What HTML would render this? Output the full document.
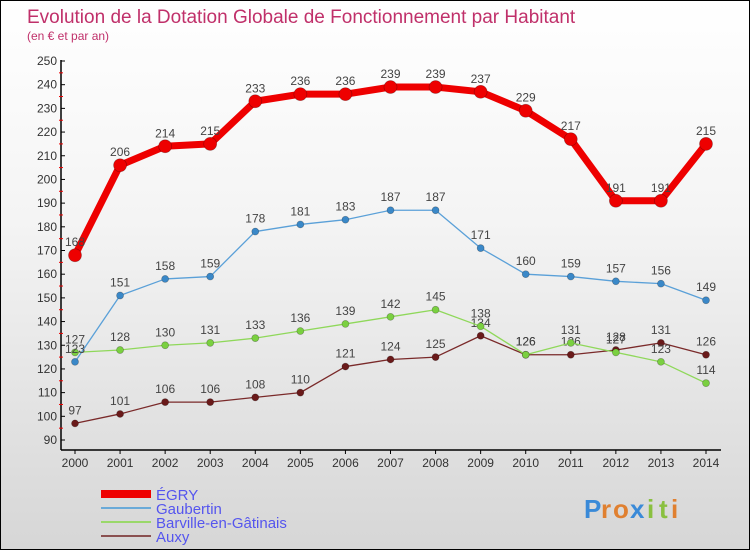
<!DOCTYPE html>
<html><head><meta charset="utf-8">
<style>
body{margin:0;width:750px;height:550px;overflow:hidden;font-family:"Liberation Sans",sans-serif;}
#wrap{position:relative;width:748px;height:548px;border:1px solid #000;background:linear-gradient(#ffffff,#f4f4f4 40%,#d6d6d6);}
</style></head><body>
<div id="wrap">
<svg id="chart" width="748" height="548"></svg>
</div>
<script>
const years=[2000,2001,2002,2003,2004,2005,2006,2007,2008,2009,2010,2011,2012,2013,2014];
const egry=[168,206,214,215,233,236,236,239,239,237,229,217,191,191,215];
const gaubertin=[123,151,158,159,178,181,183,187,187,171,160,159,157,156,149];
const barville=[127,128,130,131,133,136,139,142,145,138,126,131,127,123,114];
const auxy=[97,101,106,106,108,110,121,124,125,134,126,126,128,131,126];
const yTicks=[90,100,110,120,130,140,150,160,170,180,190,200,210,220,230,240,250];
const seriesNames=["ÉGRY","Gaubertin","Barville-en-Gâtinais","Auxy"];
const NS="http://www.w3.org/2000/svg";
const svg=document.getElementById('chart');
function xs(i){return 74+i*(705-74)/(years.length-1);}
function ys(v){return 439-(v-90)*(379/160);}
function el(t,a,p){const e=document.createElementNS(NS,t);for(const k in a)e.setAttribute(k,a[k]);(p||svg).appendChild(e);return e;}
function txt(x,y,s,a){const e=el('text',Object.assign({x:x,y:y},a));e.textContent=s;return e;}
let t=txt(26,22,"Evolution de la Dotation Globale de Fonctionnement par Habitant",{fill:"#c0306a","font-size":19});

t=txt(26,39,"(en € et par an)",{fill:"#c0306a","font-size":12});

// axes
let ax=el('line',{x1:60,y1:59,x2:60,y2:449,stroke:"#000","stroke-width":1.5});

ax=el('line',{x1:60,y1:449,x2:720,y2:449,stroke:"#000","stroke-width":1.5});

yTicks.forEach((v,i)=>{const y=ys(v);
 el('line',{x1:60,y1:y,x2:64,y2:y,stroke:"#000"});
 if(i<yTicks.length-1)el('line',{x1:58,y1:ys(v+5),x2:62,y2:ys(v+5),stroke:"#e00"});
 const l=txt(56,y+4,String(v),{fill:"#333","font-size":12,"text-anchor":"end"});
 });
years.forEach((yr,i)=>{const x=xs(i);
 el('line',{x1:x,y1:449,x2:x,y2:453,stroke:"#000"});
 const l=txt(x,466,String(yr),{fill:"#333","font-size":12,"text-anchor":"middle"});
 });
function series(data,color,w,r,dot,name){
 const g=el('g',{});
 
 el('polyline',{points:data.map((v,i)=>xs(i)+","+ys(v)).join(" "),fill:"none",stroke:color,"stroke-width":w,"stroke-linejoin":"round"},g);
 data.forEach((v,i)=>{const c=el('circle',{cx:xs(i),cy:ys(v),r:r,fill:dot,stroke:"rgba(0,0,0,0.3)","stroke-width":0.7},g);
  
  const l=txt(xs(i),ys(v)-9,String(v),{fill:"#444","font-size":12,"text-anchor":"middle"},g);
  });
}
series(auxy,"#7a2a2a",1.3,3.5,"#6a1a1a","auxy");
series(barville,"#8fd85a",1.3,3.5,"#7ad040","barville");
series(gaubertin,"#5aa0d8",1.3,3.5,"#3a88c8","gaubertin");
series(egry,"#ee0000",7,6.5,"#ee0000","egry");
const legColors=["#ee0000","#6aaad8","#9ad86a","#8a5050"];
const legW=[8,2,2,2];
seriesNames.forEach((n,i)=>{const y=493+i*14;
 const g=el('g',{});
 el('line',{x1:100,y1:y,x2:150,y2:y,stroke:legColors[i],"stroke-width":legW[i]},g);
 txt(155,y+6,n,{fill:"#5555ee","font-size":15},g);});
const lg=el('g',{});
const logo=[["P","#3a8ad8"],["r","#e08030"],["o","#e08030"],["x","#3a8ad8"],["i","#8ac040"],["t","#8ac040"],["i","#e08030"]];
let lx=583;logo.forEach(([c,col])=>{txt(lx,517,c,{fill:col,"font-size":26,"font-weight":"bold"},lg);lx+=(c==="i"||c==="t"||c==="r")?12:17;});
</script>
</body></html>
